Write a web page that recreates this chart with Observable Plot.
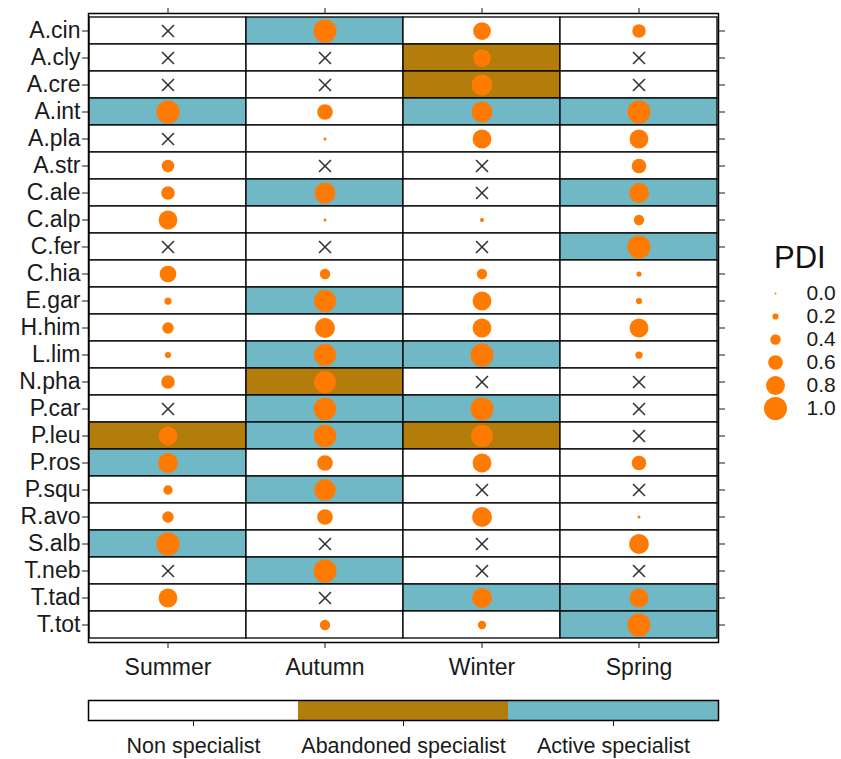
<!DOCTYPE html>
<html><head><meta charset="utf-8">
<script src="https://cdn.jsdelivr.net/npm/d3@7"></script>
<script src="https://cdn.jsdelivr.net/npm/@observablehq/plot@0.6"></script>
<style>
body{margin:0;background:#fff;font-family:"Liberation Sans",Arial,sans-serif;}
#wrap{position:relative;width:841px;height:759px;}
#main svg,#bar svg{display:block;}
#legend{position:absolute;left:745px;top:240px;}
#pdiTitle{position:absolute;left:774px;top:240px;font-size:31px;color:#111;}
</style></head><body>
<div id="wrap"><div id="main"></div><div id="bar"></div><div id="pdiTitle">PDI</div><div id="legend"></div></div>
<script>
const species = ["A.cin","A.cly","A.cre","A.int","A.pla","A.str","C.ale","C.alp","C.fer","C.hia","E.gar","H.him","L.lim","N.pha","P.car","P.leu","P.ros","P.squ","R.avo","S.alb","T.neb","T.tad","T.tot"];
const seasons = ["Summer","Autumn","Winter","Spring"];
const statusLabels = ["Non specialist","Abandoned specialist","Active specialist"];
const statusColors = ["#FFFFFF","#B37D0B","#70B8C6"];
const pdiBreaks = [0.0,0.2,0.4,0.6,0.8,1.0];

// PDI per season (null = not recorded, shown as a cross; "-" = blank cell)
const pdiSummer = [null,null,null,1.0,null,0.5,0.55,0.8,null,0.7,0.25,0.45,0.2,0.55,null,0.8,0.85,0.35,0.45,1.0,null,0.8,"-"];
const pdiAutumn = [1.0,null,null,0.65,0.05,null,0.9,0.05,null,0.4,0.95,0.85,0.95,0.95,0.98,0.97,0.65,0.93,0.65,null,1.0,null,0.4];
const pdiWinter = [0.75,0.75,0.9,0.9,0.8,null,null,0.1,null,0.4,0.8,0.8,1.0,null,1.0,0.95,0.8,null,0.85,null,null,0.85,0.3];
const pdiSpring = [0.55,null,null,1.0,0.8,0.6,0.85,0.4,1.0,0.15,0.2,0.8,0.25,null,null,null,0.6,null,0.05,0.85,null,0.8,1.0];

// Status per season: N = Non specialist, B = Abandoned specialist, A = Active specialist
const statusSummer = ["N","N","N","A","N","N","N","N","N","N","N","N","N","N","N","B","A","N","N","A","N","N","N"];
const statusAutumn = ["A","N","N","N","N","N","A","N","N","N","A","N","A","B","A","A","N","A","N","N","A","N","N"];
const statusWinter = ["N","B","B","A","N","N","N","N","N","N","N","N","A","N","A","B","N","N","N","N","N","A","N"];
const statusSpring = ["N","N","N","A","N","N","A","N","A","N","N","N","N","N","N","N","N","N","N","N","N","A","A"];

const codeToLabel = {N: statusLabels[0], B: statusLabels[1], A: statusLabels[2]};
const pdiBySeason = [pdiSummer, pdiAutumn, pdiWinter, pdiSpring];
const statusBySeason = [statusSummer, statusAutumn, statusWinter, statusSpring];

const table = [];
seasons.forEach((s, j) => species.forEach((sp, i) => {
  table.push({season: s, species: sp, pdi: pdiBySeason[j][i], status: codeToLabel[statusBySeason[j][i]]});
}));

const font = '"Liberation Sans", Arial, sans-serif';
const colorScale = {domain: statusLabels, range: statusColors};
const rScale = {type: "linear", domain: [0, 1], range: [1, 11.5]};
const orange = "#FF7A00";

const main = Plot.plot({
  width: 730, height: 684,
  marginLeft: 88, marginRight: 12, marginTop: 13, marginBottom: 42,
  x: {domain: seasons, padding: 0, label: null},
  y: {domain: species, padding: 0, label: null},
  color: colorScale,
  r: rScale,
  style: {fontFamily: font, fontSize: "23px", color: "#1a1a1a", background: "transparent"},
  marks: [
    Plot.cell(table, {x: "season", y: "species", fill: "status", stroke: "black", strokeWidth: 1.3}),
    Plot.dot(table.filter(d => typeof d.pdi === "number"), {x: "season", y: "species", r: "pdi", fill: orange, stroke: "none"}),
    Plot.dot(table.filter(d => d.pdi === null), {x: "season", y: "species", symbol: "times", r: 5.5, stroke: "#333", strokeWidth: 1.6}),
    Plot.axisY({tickSize: 6, tickPadding: 2, label: null, fontSize: 23}),
    Plot.axisY({anchor: "right", tickSize: 6, tickFormat: () => "", label: null}),
    Plot.axisX({anchor: "bottom", tickSize: 6, tickPadding: 10, label: null, fontSize: 23}),
    Plot.axisX({anchor: "top", tickSize: 6, tickFormat: () => "", label: null}),
    Plot.frame({stroke: "black", strokeWidth: 1.5})
  ]
});
document.getElementById("main").append(main);

const bar = Plot.plot({
  width: 730, height: 75,
  marginLeft: 88, marginRight: 12, marginTop: 16, marginBottom: 39,
  x: {domain: statusLabels, padding: 0, label: null},
  color: colorScale,
  style: {fontFamily: font, fontSize: "21.5px", color: "#1a1a1a", background: "transparent"},
  marks: [
    Plot.cell(statusLabels, {x: d => d, fill: d => d}),
    Plot.frame({stroke: "black", strokeWidth: 1.5}),
    Plot.axisX({tickSize: 6, tickPadding: 11, label: null, fontSize: 21.5})
  ]
});
document.getElementById("bar").append(bar);

const leg = Plot.plot({
  width: 96, height: 190,
  marginTop: 52, marginBottom: 22, marginLeft: 0, marginRight: 0,
  y: {type: "point", domain: pdiBreaks, padding: 0, axis: null},
  r: rScale,
  style: {fontFamily: font, fontSize: "21px", color: "#1a1a1a", background: "transparent"},
  marks: [
    Plot.dot(pdiBreaks, {y: d => d, r: d => d, fill: orange, frameAnchor: "left", dx: 30}),
    Plot.text(pdiBreaks, {y: d => d, text: d => d.toFixed(1), frameAnchor: "left", dx: 61, textAnchor: "start", fontSize: 21, fill: "#1a1a1a"})
  ]
});
document.getElementById("legend").append(leg);
</script>
</body></html>
